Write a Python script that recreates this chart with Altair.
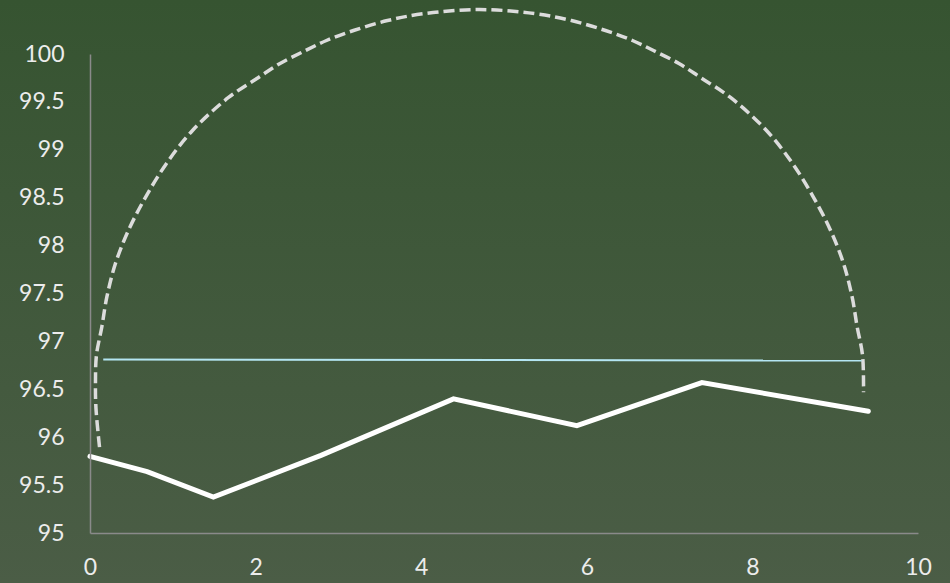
import altair as alt
import pandas as pd

# Main series (white line)
main_x = [0.0, 0.69, 1.49, 2.79, 4.39, 5.88, 7.39, 9.40]
main_y = [95.80, 95.64, 95.375, 95.81, 96.40, 96.12, 96.57, 96.27]

# Reference level (light blue line)
ref_x = [0.16, 9.32]
ref_y = [96.81, 96.80]

# Dashed arc, traced point by point from left end to right end
arc_x = [0.115, 0.072, 0.066, 0.078, 0.142, 0.203, 0.308, 0.465, 0.670, 0.924,
         1.238, 1.673, 2.035, 2.295, 2.603, 2.856, 3.182, 3.593, 4.040, 4.704,
         5.368, 5.815, 6.226, 6.552, 6.805, 7.113, 7.373, 7.735, 8.170, 8.484,
         8.738, 8.943, 9.100, 9.205, 9.266, 9.330, 9.342]
arc_y = [95.897, 96.303, 96.564, 96.856, 97.148, 97.461, 97.815, 98.160, 98.504,
         98.858, 99.202, 99.546, 99.755, 99.901, 100.036, 100.141, 100.245,
         100.349, 100.422, 100.464, 100.422, 100.349, 100.245, 100.141, 100.036,
         99.901, 99.755, 99.546, 99.202, 98.858, 98.504, 98.160, 97.815, 97.461,
         97.148, 96.856, 96.470]

main_df = pd.DataFrame({"x": main_x, "y": main_y})
ref_df = pd.DataFrame({"x": ref_x, "y": ref_y})
arc_df = pd.DataFrame({"x": arc_x, "y": arc_y, "i": list(range(len(arc_x)))})

W, H = 828, 479
PAD = {"left": 90, "top": 54, "right": 32, "bottom": 50}

x_scale = alt.Scale(domain=[0, 10], nice=False)
y_scale = alt.Scale(domain=[95, 100], nice=False)

axis_style = dict(
    title=None, grid=False, ticks=False, labelFlush=False, format="~g",
    domainColor="#8a8a8a", domainWidth=1.5, labelColor="#ececec",
    labelFont="Lato", labelFontSize=23, zindex=1,
)
x_axis = alt.Axis(values=[0, 2, 4, 6, 8, 10], labelPadding=23, **axis_style)
y_axis = alt.Axis(values=[95, 95.5, 96, 96.5, 97, 97.5, 98, 98.5, 99, 99.5, 100],
                  labelPadding=26, **axis_style)

# Full-canvas gradient backdrop
backdrop = alt.Chart(pd.DataFrame({"a": [0]})).mark_rect(
    color=alt.Gradient(
        gradient="linear",
        stops=[alt.GradientStop(color="#365431", offset=0),
               alt.GradientStop(color="#4b5d46", offset=1)],
        x1=0, x2=0, y1=0, y2=1,
    )
).encode(
    x=alt.value(-PAD["left"]), x2=alt.value(W + PAD["right"]),
    y=alt.value(-PAD["top"]), y2=alt.value(H + PAD["bottom"]),
)

arc = alt.Chart(arc_df).mark_line(
    color="#dcdcdc", strokeWidth=3.5, strokeDash=[11, 5], interpolate="catmull-rom"
).encode(
    x=alt.X("x:Q", scale=x_scale, axis=x_axis),
    y=alt.Y("y:Q", scale=y_scale, axis=y_axis),
    order="i:Q",
)

ref = alt.Chart(ref_df).mark_line(color="#b4e6f2", strokeWidth=2).encode(
    x=alt.X("x:Q", scale=x_scale), y=alt.Y("y:Q", scale=y_scale)
)

main = alt.Chart(main_df).mark_line(
    color="#ffffff", strokeWidth=5, strokeCap="round", strokeJoin="miter"
).encode(
    x=alt.X("x:Q", scale=x_scale), y=alt.Y("y:Q", scale=y_scale)
)

chart = alt.layer(backdrop, arc, ref, main).properties(
    width=W, height=H, padding=PAD, autosize="none", background="#405839"
).configure_view(stroke=None)

chart.save("out.html", embed_options={"renderer": "svg", "actions": False})
